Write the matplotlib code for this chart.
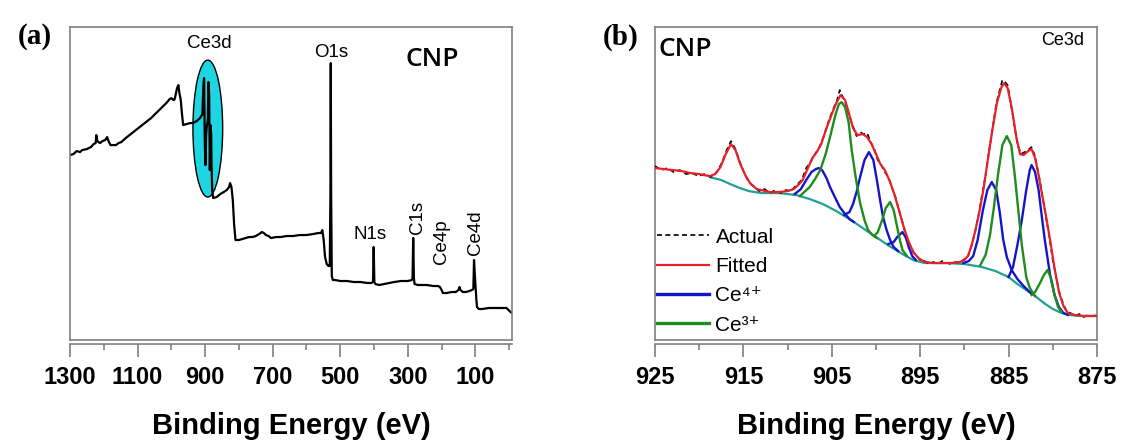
import numpy as np
import matplotlib
matplotlib.use("Agg")
import matplotlib.pyplot as plt
from matplotlib.patches import Ellipse
from matplotlib.ticker import MultipleLocator

plt.rcParams['font.family'] = ['Liberation Sans', 'DejaVu Sans']

# (a) survey spectrum: (binding energy eV, intensity a.u.)
survey = [(1300, 185), (1290, 186), (1280, 189), (1270, 188), (1264, 190), (1250, 191),
          (1238, 193), (1230, 196), (1224, 197), (1222, 205), (1219, 199), (1211, 197),
          (1204, 199), (1196, 200), (1190, 203), (1186, 199), (1180, 195), (1170, 195),
          (1164, 195), (1156, 197), (1148, 198), (1135, 202), (1120, 206), (1105, 210),
          (1090, 214), (1075, 218), (1060, 222), (1045, 227), (1030, 232), (1015, 237),
          (1005, 241), (1000, 242), (993, 240), (990, 241), (983, 252), (979, 255),
          (976, 247), (972, 240), (969, 228), (965, 215), (955, 216), (945, 217),
          (937, 217), (925, 219), (915, 222), (908, 226), (905, 255), (903, 262),
          (901, 200), (899, 175), (897, 205), (895, 214), (892, 220), (890, 258),
          (888, 245), (886, 170), (884, 215), (882, 205), (881, 175), (879, 150),
          (876, 142), (866, 143), (855, 146), (845, 148), (836, 150), (829, 153),
          (826, 157), (822, 153), (818, 140), (814, 115), (810, 100), (800, 100),
          (790, 101), (780, 102), (770, 103), (760, 103), (750, 104), (740, 106),
          (732, 108), (726, 107), (720, 105), (712, 104), (705, 102), (690, 103),
          (675, 103), (660, 104), (640, 104), (620, 105), (600, 105), (580, 106),
          (565, 107), (557, 107), (553, 110), (549, 100), (545, 83), (540, 76),
          (535, 74), (531, 74), (529, 150), (528, 277), (527, 150), (525, 64),
          (522, 60), (515, 60), (500, 59), (480, 59), (460, 58), (440, 58),
          (420, 57), (408, 57), (403, 58), (401, 93), (399, 58), (396, 56),
          (385, 55), (370, 56), (355, 57), (340, 58), (320, 59), (300, 59),
          (288, 60), (286, 62), (284, 102), (282, 62), (280, 56), (270, 55),
          (255, 55), (243, 55), (225, 54), (210, 54), (205, 53), (200, 50),
          (196, 47), (185, 47), (170, 48), (158, 48), (150, 50), (147, 53),
          (144, 50), (137, 48), (128, 48), (118, 49), (110, 50), (106, 51),
          (104, 80), (101, 62), (97, 40), (95, 33), (90, 31), (80, 31),
          (60, 32), (40, 32), (20, 32), (8, 32), (2, 30), (-4, 28), (-8, 27)]

survey_ticks = [1300, 1100, 900, 700, 500, 300, 100]

# peak labels: (text, eV, intensity, rotation)
survey_labels = [("Ce3d", 889, 297, 0), ("O1s", 526, 288, 0), ("N1s", 411, 106, 0),
                 ("C1s", 270, 123, 90), ("Ce4p", 201, 98, 90), ("Ce4d", 100, 107, 90)]

# (b) Ce3d high resolution
ce3d_ticks = [925, 915, 905, 895, 885, 875]

actual = [(925, 174), (924.3, 170), (923.6, 172), (922.9, 168), (922.2, 170), (921.5, 166),
          (920.8, 167), (920.1, 164), (919.4, 166), (918.7, 163), (918.0, 168), (917.4, 178),
          (916.9, 190), (916.4, 199), (915.9, 191), (915.4, 178), (914.9, 167), (914.4, 158),
          (913.8, 153), (913.2, 149), (912.6, 151), (912.0, 147), (911.4, 150), (910.8, 147),
          (910.2, 150), (909.6, 149), (909.0, 155), (908.4, 160), (907.9, 172), (907.4, 178),
          (906.9, 186), (906.4, 193), (905.9, 204), (905.4, 218), (904.9, 230), (904.4, 240),
          (904.1, 250), (903.8, 244), (903.4, 236), (903.0, 224), (902.6, 214), (902.2, 204),
          (901.8, 208), (901.4, 206), (901.0, 207), (900.6, 198), (900.2, 191), (899.8, 180),
          (899.4, 175), (899.0, 168), (898.6, 163), (898.2, 153), (897.8, 143), (897.4, 130),
          (897.0, 118), (896.6, 104), (896.2, 96), (895.8, 88), (895.4, 84), (895.0, 80),
          (894.5, 79), (894.0, 76), (893.5, 78), (893.0, 76), (892.5, 79), (892.0, 77),
          (891.5, 76), (891.0, 78), (890.5, 77), (890.0, 81), (889.6, 83), (889.2, 94),
          (888.8, 107), (888.4, 125), (888.0, 145), (887.6, 165), (887.2, 190), (886.8, 212),
          (886.4, 236), (886.0, 250), (885.7, 260), (885.4, 258), (885.1, 255), (884.8, 240),
          (884.4, 218), (884.0, 196), (883.6, 186), (883.2, 188), (882.8, 190), (882.4, 193),
          (882.0, 184), (881.6, 166), (881.2, 146), (880.8, 124), (880.4, 104), (880.0, 80),
          (879.6, 62), (879.2, 46), (878.8, 36), (878.4, 28), (878.0, 27), (877.5, 24),
          (877.0, 26), (876.5, 23), (876.0, 25), (875.5, 24), (875.0, 25)]

fitted = [(925, 172), (924, 171), (923, 170), (922, 169), (921, 167), (920, 166), (919.5, 165),
          (918.8, 164), (918.2, 166), (917.6, 173), (917.0, 186), (916.4, 196), (915.9, 190),
          (915.4, 177), (914.8, 165), (914.25, 157), (913.5, 151), (913.0, 150), (912.0, 148),
          (911.0, 148), (910.0, 149), (909.3, 151), (908.8, 155), (908.3, 160), (907.8, 170),
          (907.2, 182), (906.7, 188), (906.2, 196), (905.6, 212), (905.0, 226), (904.5, 237),
          (904.0, 245), (903.5, 240), (903.1, 228), (902.6, 212), (902.1, 205), (901.5, 206),
          (901.0, 203), (900.5, 196), (900.0, 186), (899.5, 176), (899.0, 170), (898.4, 158),
          (897.9, 145), (897.4, 130), (897.0, 117), (896.6, 106), (896.2, 96), (895.7, 87),
          (895.2, 82), (894.5, 78), (893.5, 77), (892.5, 77), (891.5, 77), (890.5, 78),
          (890.0, 80), (889.6, 84), (889.2, 94), (888.8, 108), (888.3, 128), (887.8, 153),
          (887.3, 183), (886.8, 212), (886.3, 238), (885.8, 253), (885.5, 257), (885.1, 252),
          (884.6, 230), (884.1, 202), (883.7, 186), (883.3, 185), (882.8, 189), (882.4, 191),
          (882.0, 182), (881.6, 165), (881.2, 145), (880.8, 126), (880.3, 100), (879.8, 72),
          (879.3, 48), (878.8, 34), (878.3, 27), (877.5, 25), (876.5, 24), (875.5, 24),
          (875, 24)]

background = [(918.8, 163), (917.5, 160), (916.5, 156), (915.4, 152), (914.4, 149), (913, 147),
              (911, 147), (909, 145), (907.5, 141), (906, 136), (904.5, 129), (903, 121),
              (901.5, 112), (900, 103), (898.5, 94), (897, 86), (895.8, 80), (894.5, 77),
              (892, 77), (890, 76), (888, 73), (886.5, 69), (885, 63), (884, 56), (883, 50),
              (882, 44), (881, 37), (880, 31), (879, 27), (878, 25), (877, 24), (875, 24)]

ce4_peaks = [
    [(909.2, 146), (908.5, 151), (907.9, 160), (907.3, 168), (906.8, 171), (906.5, 172),
     (906.1, 170), (905.6, 162), (905.2, 153), (904.6, 142), (904.1, 133), (903.5, 126),
     (903.0, 121), (902.5, 118)],
    [(903.6, 125), (903.0, 128), (902.6, 136), (902.2, 148), (901.8, 163), (901.3, 180),
     (900.8, 188), (900.3, 180), (899.9, 160), (899.5, 138), (899.2, 123), (898.8, 110),
     (898.4, 100), (898.0, 93), (897.5, 89)],
    [(898.6, 96), (898.0, 98), (897.6, 103), (897.0, 108), (896.6, 102), (896.3, 93),
     (895.9, 84), (895.5, 80)],
    [(890.1, 77), (889.5, 79), (889.0, 84), (888.5, 100), (887.9, 130), (887.4, 150),
     (886.9, 158), (886.4, 150), (886.0, 128), (885.6, 100), (885.2, 83), (884.65, 70),
     (884.0, 61), (883.3, 54), (882.5, 47)],
    [(885.0, 63), (884.5, 73), (884.0, 95), (883.5, 120), (883.0, 150), (882.6, 170),
     (882.4, 175), (882.0, 168), (881.6, 150), (881.3, 128), (880.9, 100), (880.3, 65),
     (879.8, 45), (879.3, 33), (878.8, 27), (878.3, 25)],
]

ce3_peaks = [
    [(908.6, 144), (908.0, 149), (907.5, 153), (906.9, 161), (906.3, 170), (905.7, 186),
     (905.2, 203), (904.6, 225), (904.2, 236), (903.9, 238), (903.5, 233), (903.1, 218),
     (902.75, 190), (902.3, 163), (901.8, 137), (901.3, 120), (900.9, 110), (900.4, 105),
     (899.9, 102)],
    [(900.2, 104), (899.8, 108), (899.3, 120), (898.9, 132), (898.4, 138), (898.0, 130),
     (897.7, 117), (897.3, 100), (897.0, 90), (896.5, 84)],
    [(888.2, 75), (887.6, 85), (887.1, 105), (886.7, 130), (886.2, 165), (885.7, 195),
     (885.2, 204), (884.7, 195), (884.3, 165), (883.9, 130), (883.5, 95), (883.0, 63),
     (882.6, 52), (882.0, 44)],
    [(882.4, 45), (882.0, 48), (881.5, 56), (881.0, 65), (880.6, 70), (880.2, 62),
     (879.8, 45), (879.4, 33), (879.0, 28)],
]

frame_col = "#7f7f7f"


def style_axis(ax, ticks, minor_step):
    for s in ax.spines.values():
        s.set_color(frame_col)
        s.set_linewidth(1.2)
    # double line at the bottom of the frame
    ax.spines['bottom'].set_position(('outward', 3))
    ax.plot([0, 1], [0, 0], transform=ax.transAxes, color=frame_col, lw=1.2, clip_on=False)
    ax.set_yticks([])
    ax.set_xticks(ticks)
    ax.set_xticklabels([str(t) for t in ticks], fontweight='bold')
    ax.xaxis.set_minor_locator(MultipleLocator(minor_step))
    ax.tick_params(axis='x', direction='out', length=9, width=1.2, color=frame_col,
                   pad=7, labelsize=17)
    ax.tick_params(axis='x', which='minor', direction='out', length=4, width=1.2, color=frame_col)
    ax.set_xlabel("Binding Energy (eV)", fontsize=21, fontweight='bold', labelpad=16)
    ax.set_ylim(0, 313)


fig = plt.figure(figsize=(11.23, 4.45), dpi=100)

# ---- (a)
ax1 = fig.add_axes([0.0623, 0.236, 0.3935, 0.703])
ev, inten = np.array(survey).T
ax1.add_patch(Ellipse((892, 211.5), 88, 137, facecolor="#1ed6e2", edgecolor="black", lw=1, zorder=1))
ax1.plot(ev, inten, color="black", lw=1.6, zorder=2)
ax1.set_xlim(1300, -8)
for txt, x, y, rot in survey_labels:
    ax1.text(x, y, txt, fontsize=13.5, ha='center', va='center', rotation=rot)
ax1.text(0.819, 0.895, "CNP", transform=ax1.transAxes, fontsize=19, ha='center', va='center',
         family=['Open Sans', 'DejaVu Sans'], fontweight='semibold')
style_axis(ax1, survey_ticks, 100)

# ---- (b)
ax2 = fig.add_axes([0.5833, 0.236, 0.3935, 0.703])
ax2.plot(*np.array(actual).T, color="black", lw=1.2, ls=(0, (3, 2)), label="Actual", zorder=3)
ax2.plot(*np.array(fitted).T, color="#e8202a", lw=1.6, label="Fitted", zorder=4)
for i, pk in enumerate(ce4_peaks):
    ax2.plot(*np.array(pk).T, color="#1515c8", lw=1.7,
             label="Ce\u2074\u207a" if i == 0 else None, zorder=2)
for i, pk in enumerate(ce3_peaks):
    ax2.plot(*np.array(pk).T, color="#1e8c1e", lw=1.7,
             label="Ce\u00b3\u207a" if i == 0 else None, zorder=2)
ax2.plot(*np.array(background).T, color="#22a096", lw=1.6, zorder=1)
ax2.set_xlim(925, 875)
ax2.text(0.007, 0.93, "CNP", transform=ax2.transAxes, fontsize=19, ha='left', va='center',
         family=['Open Sans', 'DejaVu Sans'], fontweight='semibold')
ax2.text(0.923, 0.958, "Ce3d", transform=ax2.transAxes, fontsize=13, ha='center', va='center')
leg = ax2.legend(loc='lower left', bbox_to_anchor=(0.0, 0.01), frameon=False, fontsize=15,
                 handlelength=2.5, handletextpad=0.3, borderpad=0.1, borderaxespad=0,
                 labelspacing=0.5)
for h in leg.legend_handles[2:]:
    h.set_linewidth(2.4)
style_axis(ax2, ce3d_ticks, 5)

fig.text(0.031, 0.919, "(a)", fontsize=21, fontweight='bold', ha='center', va='center',
         family=['Liberation Serif', 'DejaVu Serif'])
fig.text(0.553, 0.917, "(b)", fontsize=21, fontweight='bold', ha='center', va='center',
         family=['Liberation Serif', 'DejaVu Serif'])

fig.savefig("out.png", dpi=100, facecolor="white")
